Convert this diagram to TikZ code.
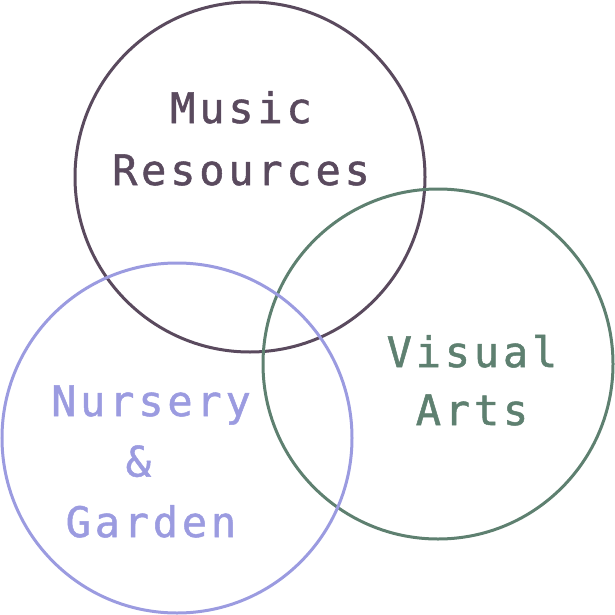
\documentclass[tikz,border=0pt]{standalone}
\usepackage{fontspec}
\newfontfamily\labelfont{DejaVu Sans Mono}[FakeBold=1.2,LetterSpace=9]
\usepackage{xcolor}
\usepackage{tikz}

\definecolor{musiccol}{HTML}{5A4A5E}
\definecolor{artscol}{HTML}{5E8070}
\definecolor{nurserycol}{HTML}{9B9BE0}

\begin{document}
\begin{tikzpicture}[x=1pt,y=-1pt]
        \useasboundingbox (0,0) rectangle (615,615);

        \coordinate (M) at (250,177);
        \coordinate (V) at (438,364);
        \coordinate (N) at (177,438);

        \draw[color=musiccol, line width=3pt] (M) circle (175);
        \draw[color=artscol, line width=3pt] (V) circle (175);
        \draw[color=nurserycol, line width=3pt] (N) circle (175);

        \node[anchor=base, align=center, text=musiccol, font=\labelfont\fontsize{42}{62}\selectfont] (music) at (241,185) {Music\\Resources};
        \node[anchor=base, align=center, text=artscol, font=\labelfont\fontsize{42}{58}\selectfont] (arts) at (472,425) {Visual\\Arts};
        \node[anchor=base, align=center, text=nurserycol, font=\labelfont\fontsize{42}{60.5}\selectfont] (nursery) at (151,537) {Nursery\\\&\hphantom{x}\\Garden};
    \end{tikzpicture}
\end{document}
